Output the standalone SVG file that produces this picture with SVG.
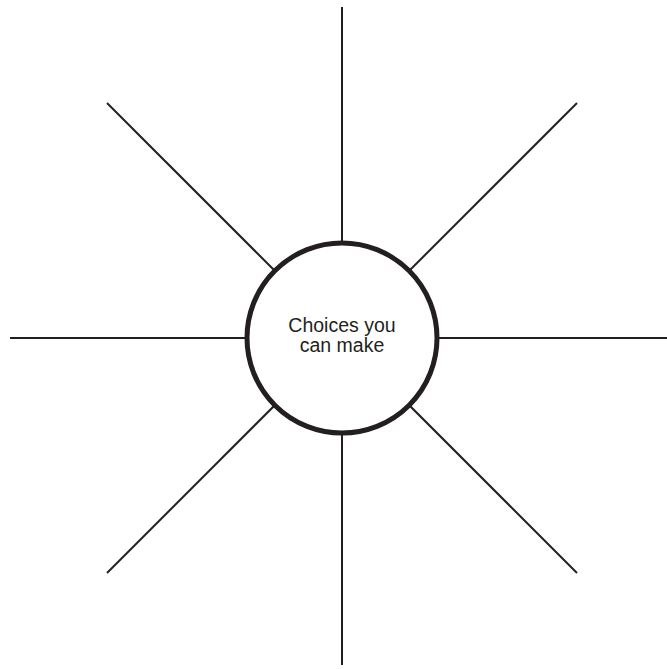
<svg xmlns="http://www.w3.org/2000/svg" width="667" height="669" viewBox="0 0 667 669">
<style>
.ray{stroke:#231f20;stroke-width:2;fill:none}
.hub{fill:#fff;stroke:#231f20;stroke-width:5}
.lbl{font-family:"Liberation Sans",Arial,sans-serif;font-size:19.5px;fill:#231f20;text-anchor:middle}
</style>
<rect width="667" height="669" fill="#fff"/>
<g id="connectors">
<line class="ray" x1="342" y1="7" x2="342" y2="338"/>
<line class="ray" x1="342" y1="338" x2="342" y2="665"/>
<line class="ray" x1="10" y1="338" x2="342" y2="338"/>
<line class="ray" x1="342" y1="338" x2="667" y2="338"/>
<line class="ray" x1="107" y1="103" x2="342" y2="338"/>
<line class="ray" x1="577" y1="103" x2="342" y2="338"/>
<line class="ray" x1="107" y1="573" x2="342" y2="338"/>
<line class="ray" x1="577" y1="573" x2="342" y2="338"/>
</g>
<g id="center">
<circle class="hub" cx="342" cy="338" r="95"/>
<text class="lbl" x="342" y="332">Choices you</text>
<text class="lbl" x="342" y="352">can make</text>
</g>
</svg>
